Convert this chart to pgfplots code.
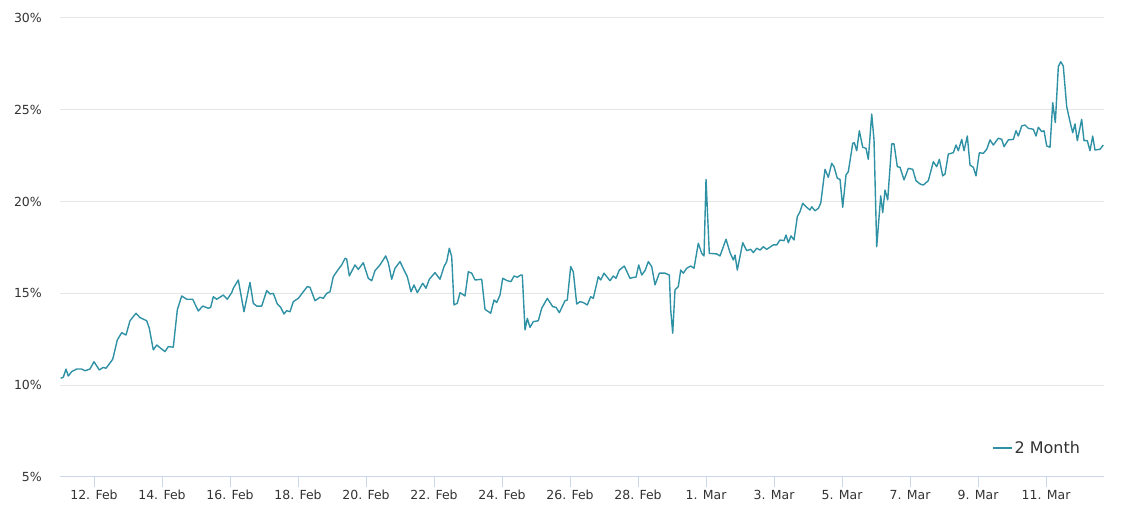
\documentclass[border=0pt]{standalone}
\usepackage{pgfplots}
\pgfplotsset{compat=1.18}
\usepackage{pgfplotstable}
\usepackage{fontspec}
\setmainfont{DejaVu Sans}
\definecolor{linec}{RGB}{47,145,164}
\definecolor{axisc}{RGB}{204,214,235}
\definecolor{gridc}{RGB}{230,230,230}
\definecolor{labc}{RGB}{51,51,51}
% column 0: horizontal position on the chart (px), column 1: value in %
\pgfplotstableread{
px val
60.7 10.38
63.3 10.43
66 10.88
68.3 10.50
71.7 10.74
76.7 10.88
81.7 10.88
85 10.79
90 10.88
94 11.28
99.3 10.83
103.3 10.97
106 10.92
112.7 11.41
117.3 12.46
121.7 12.86
126 12.73
130 13.51
136 13.92
140 13.68
146.7 13.51
149.3 13.10
153.3 11.92
156.7 12.19
160.7 12.01
165 11.83
168.3 12.10
173.3 12.07
177.3 14.10
181.7 14.86
186.7 14.68
192.7 14.68
198.3 14.04
202.7 14.31
208.3 14.19
210.7 14.24
213.3 14.82
216.7 14.68
223.3 14.91
227.3 14.68
231.7 15.04
233.3 15.28
238.3 15.73
244 14.00
250 15.60
253.3 14.46
256.7 14.31
261.7 14.31
266.7 15.15
270 14.97
273.3 15.00
277.3 14.42
280.7 14.24
284 13.88
286.7 14.06
290 14.00
293.3 14.55
298.3 14.73
303.3 15.09
307.3 15.37
310 15.33
315 14.60
320 14.79
323.3 14.73
326.7 15.00
330 15.09
333.3 15.91
338.3 16.31
341.7 16.55
345 16.91
346.7 16.87
349.3 15.95
355 16.55
358.3 16.31
363.3 16.67
368.3 15.82
371.7 15.69
375 16.24
380 16.55
385.7 17.04
388.3 16.67
391.7 15.77
395 16.37
400 16.73
404 16.27
407.3 15.91
411 15.09
414 15.46
417.3 15.04
422.7 15.55
426 15.28
429.3 15.77
435 16.13
440 15.77
444 16.46
446.7 16.73
449.3 17.46
451.7 17.00
454 14.37
457.3 14.46
460 15.04
465 14.86
468.3 16.18
471.7 16.10
475 15.73
481.7 15.77
485 14.13
490.7 13.92
494 14.64
496.7 14.50
500 14.91
502.7 15.82
507.3 15.69
511 15.64
514 15.95
517.3 15.88
520.7 16.00
522.3 16.00
525 13.01
527.3 13.64
530 13.15
533.3 13.46
538.3 13.51
541.7 14.19
547.3 14.73
552.7 14.28
556 14.24
559.3 13.95
565 14.60
567.3 14.64
570.7 16.46
573.3 16.18
576.7 14.42
580 14.55
583.3 14.50
587.3 14.37
590.7 14.82
593.3 14.73
598.3 15.91
600.7 15.73
604 16.10
610 15.69
613.3 15.95
616 15.82
619.3 16.27
624.3 16.49
630 15.82
634 15.88
636 15.88
638.7 16.55
641.7 16.00
645 16.24
648.3 16.73
651.7 16.46
655 15.46
659.3 16.10
665 16.10
669.3 16.00
670.7 14.10
672.7 12.83
675 15.19
678.3 15.37
680.7 16.27
683.3 16.10
686.7 16.37
690.7 16.49
694 16.37
698.3 17.73
701.7 17.18
704 17.04
706 21.21
709.3 17.18
716.7 17.15
720 17.04
726 17.95
730 17.22
733.3 16.82
735 17.09
737.3 16.27
742.7 17.76
746.7 17.33
750.7 17.40
753.3 17.22
756.7 17.46
760 17.36
763.3 17.54
766.7 17.40
773.3 17.64
776.7 17.64
780 17.91
784 17.87
786 18.18
788.3 17.76
791 18.13
794 17.91
797.3 19.18
800 19.45
802.7 19.91
806.7 19.69
810 19.54
811.7 19.72
815 19.50
818.3 19.63
820.7 19.91
825 21.76
828.3 21.32
831.7 22.09
834 21.90
837.3 21.27
840 21.21
842.7 19.69
846 21.45
848.3 21.63
852.7 23.17
854.3 23.21
856.7 22.77
859.3 23.86
862.7 22.96
866 22.90
868.3 22.30
871.7 24.77
874 23.36
876.7 17.54
880.7 20.31
882.7 19.40
885 20.63
887.7 20.09
891.7 23.14
894 23.14
897.3 21.90
900 21.87
904 21.18
908.3 21.81
912.7 21.76
916 21.14
920 20.96
923.3 20.90
928.3 21.14
933.3 22.17
936.7 21.90
939.3 22.30
942.7 21.40
945 21.50
948.3 22.59
953.3 22.66
956 23.08
958.3 22.77
961.7 23.39
964 22.77
967.3 23.57
970 21.99
973.3 21.87
976 21.40
979.3 22.66
983.3 22.63
986.7 22.85
990 23.36
993.3 23.08
998.3 23.45
1001.7 23.39
1004 22.99
1008.3 23.36
1013.3 23.39
1016 23.86
1018.3 23.57
1021.7 24.12
1025 24.17
1028.3 23.99
1033.3 23.94
1036 23.57
1038.3 24.05
1041.7 23.81
1044 23.86
1046.7 23.03
1050 22.96
1052.7 25.39
1055.3 24.30
1058.3 27.35
1060.7 27.62
1063.3 27.39
1066.7 25.17
1070 24.35
1072.7 23.75
1075 24.23
1077.3 23.32
1081.7 24.48
1084 23.32
1087.3 23.32
1090 22.77
1092.7 23.57
1095 22.81
1100 22.85
1103.3 23.08
}\datatable
\begin{document}
\begin{tikzpicture}[x=1bp,y=1bp]
\useasboundingbox (0,0) rectangle (1121,513);
\begin{axis}[
  at={(60bp,36bp)}, anchor=south west,
  scale only axis, width=1044bp, height=459bp,
  xmin=11, xmax=41.706, ymin=5, ymax=30,
  axis x line*=bottom, axis y line*=left,
  y axis line style={draw=none},
  x axis line style={draw=axisc, line width=1bp},
  tick align=outside, major tick length=10bp,
  xtick style={draw=axisc, line width=1bp},
  ytick style={draw=none},
  xtick={12,14,16,18,20,22,24,26,28,30,32,34,36,38,40},
  xticklabels={12. Feb,14. Feb,16. Feb,18. Feb,20. Feb,22. Feb,24. Feb,26. Feb,28. Feb,1. Mar,3. Mar,5. Mar,7. Mar,9. Mar,11. Mar},
  ytick={5,10,15,20,25,30},
  yticklabels={5\%,10\%,15\%,20\%,25\%,30\%},
  ymajorgrids, grid style={draw=gridc, line width=1bp},
  xticklabel style={font=\fontsize{12.5bp}{14bp}\selectfont, text=labc, anchor=base, inner sep=0pt, yshift=-13bp},
  yticklabel style={font=\fontsize{12.5bp}{14bp}\selectfont, text=labc, anchor=east, inner sep=0pt, xshift=-8bp},
  legend style={at={(0.982,0.063)}, anchor=east, draw=none, fill=none,
    font=\fontsize{16bp}{18bp}\selectfont, text=labc},
  legend image code/.code={\draw[#1] (-3bp,0bp) -- (16bp,0bp);},
]
\addplot[linec, line width=1.4bp, line join=round, mark=none]
  table[x expr={11+(\thisrowno{0}-60)/34}, y index=1] {\datatable};
\addlegendentry{2 Month}
\end{axis}
\end{tikzpicture}
\end{document}
